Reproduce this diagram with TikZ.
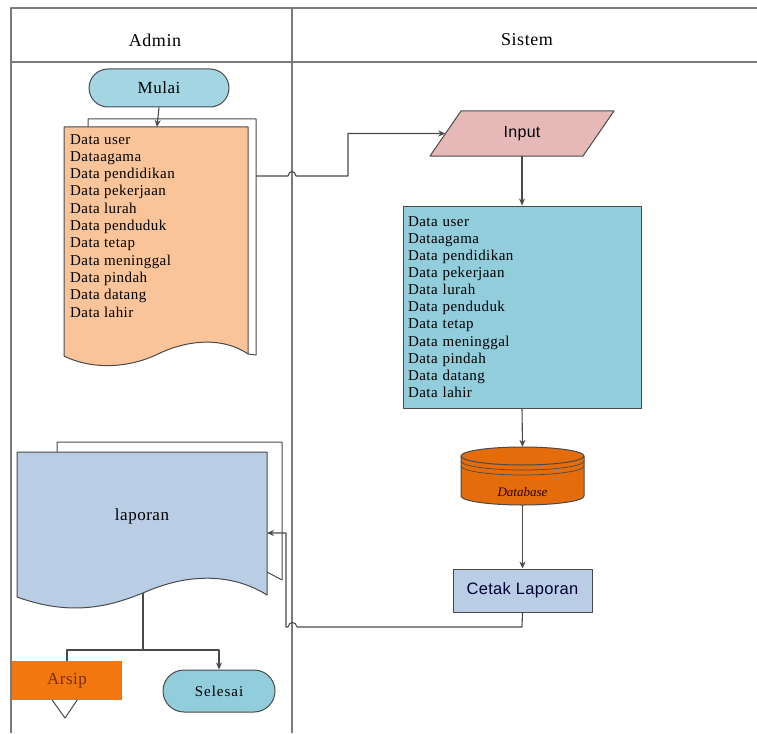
\documentclass[tikz,border=0pt]{standalone}
\usepackage{fontspec}
\setmainfont{Liberation Serif}
\newfontfamily\arialf[LetterSpace=2]{Liberation Sans}
\newfontfamily\datafont[LetterSpace=3]{Liberation Serif}
\usetikzlibrary{arrows, arrows.meta, shapes, positioning}

\definecolor{laneGray}{HTML}{7A7A7A}
\definecolor{lineGray}{HTML}{4A4A4A}
\definecolor{termBlue}{HTML}{A3D5E3}
\definecolor{docPeach}{HTML}{F9C49A}
\definecolor{dataBlue}{HTML}{92CDDC}
\definecolor{inPink}{HTML}{E6B9B8}
\definecolor{dbOrange}{HTML}{E46C0A}
\definecolor{repBlue}{HTML}{B9CDE5}
\definecolor{arsipOrange}{HTML}{F2770F}
\definecolor{arsipText}{HTML}{7A2A08}

\tikzset{
  lane/.style={draw=laneGray, line width=1.4pt},
  flow/.style={draw=lineGray, line width=1.1pt},
  term/.style={rounded rectangle, draw=lineGray, line width=1pt, fill=termBlue, inner sep=0pt},
  shapeline/.style={draw=lineGray, line width=1pt},
  datatext/.style={align=left, inner sep=0pt, font=\datafont\fontsize{15}{17.3}\selectfont}
}

\begin{document}
\begin{tikzpicture}[>={Stealth[length=7pt, width=6pt]}, x=1pt, y=-1pt, line join=round]
\useasboundingbox (0,0) rectangle (757,733);

% swimlanes
\draw[lane] (11,733) -- (11,8) -- (757,8);
\draw[lane] (11,62) -- (757,62);
\draw[lane] (292,8) -- (292,733);
\node[font=\datafont\fontsize{18}{20}\selectfont] (admin) at (155,40) {Admin};
\node[font=\datafont\fontsize{18}{20}\selectfont] (sistem) at (527,40) {Sistem};

% Admin: mulai + data documents
\node[term, minimum width=140pt, minimum height=38pt, font=\datafont\fontsize{17}{19}\selectfont] (mulai) at (159,88) {Mulai};
\draw[shapeline] (88,127) -- (88,119) -- (256,119) -- (256,355) -- (248,354);
\draw[shapeline, fill=docPeach] (64,127) -- (248,127) -- (248,354)
    .. controls (225,338) and (190,338) .. (156,355)
    .. controls (125,369) and (90,369) .. (64,356) -- cycle;
\node[datatext, anchor=north west] (datadoc) at (70,134) {Data user\\Dataagama\\Data pendidikan\\Data pekerjaan\\Data lurah\\Data penduduk\\Data tetap\\Data meninggal\\Data pindah\\Data datang\\Data lahir};
\coordinate (docin) at (157,127);
\coordinate (docout) at (256,176);

% Sistem
\draw[shapeline, fill=inPink] (430,156) -- (461,111) -- (614,111) -- (583,156) -- cycle;
\node[minimum width=153pt, minimum height=45pt, font=\arialf\fontsize{16}{18}\selectfont] (input) at (522,133.5) {Input};
\node[shapeline, fill=dataBlue, minimum width=238pt, minimum height=202pt, text width=228pt,
      align=left, inner sep=5pt, font=\datafont\fontsize{15}{17.1}\selectfont] (datasys) at (522,307)
  {Data user\\Dataagama\\Data pendidikan\\Data pekerjaan\\Data lurah\\Data penduduk\\Data tetap\\Data meninggal\\Data pindah\\Data datang\\Data lahir};

% database cylinder
\draw[shapeline, fill=dbOrange] (461,456) -- (461,496)
    arc[start angle=180, end angle=0, x radius=61.5, y radius=9] -- (584,456)
    arc[start angle=0, end angle=-180, x radius=61.5, y radius=9] -- cycle;
\draw[shapeline] (461,456) arc[start angle=180, end angle=0, x radius=61.5, y radius=9];
\draw[shapeline, line width=0.7pt] (461,461) arc[start angle=180, end angle=0, x radius=61.5, y radius=9];
\draw[shapeline, line width=0.7pt] (461,466) arc[start angle=180, end angle=0, x radius=61.5, y radius=9];
\node[minimum width=123pt, minimum height=58pt] (db) at (522.5,476) {};
\node[font=\itshape\fontsize{13}{15}\selectfont, text=black!85!red, inner sep=0pt] (dbtext) at (522.5,492) {Database};

\node[shapeline, fill=repBlue, minimum width=139pt, minimum height=43pt, inner sep=0pt,
      font=\arialf\fontsize{16.5}{18}\selectfont, text=black!80!blue] (cetak) at (522.5,590.5) {Cetak Laporan};

% Admin: laporan documents
\draw[shapeline] (57,452) -- (57,442) -- (282,442) -- (282,580) -- (267,572);
\draw[shapeline, fill=repBlue] (17,452) -- (267,452) -- (267,595)
    .. controls (240,578) and (200,570) .. (150,590)
    .. controls (115,605) and (75,618) .. (17,597) -- cycle;
\node[font=\datafont\fontsize{17}{19}\selectfont] (laporan) at (142,516) {laporan};
\coordinate (lapin) at (267,533);
\coordinate (lapout) at (143,593);

% arsip + selesai
\draw[shapeline, fill=white] (45,690) -- (84,690) -- (65,718) -- cycle;
\node[fill=arsipOrange, minimum width=110pt, minimum height=39pt, inner sep=0pt,
      font=\datafont\fontsize{17}{19}\selectfont, text=arsipText] (arsip) at (67,680.5) {Arsip};
\node[term, fill=dataBlue, minimum width=112pt, minimum height=42pt,
      font=\fontsize{15}{17}\selectfont] (selesai) at (219,691) {S\kern1pt e\kern1pt l\kern1pt e\kern1pt s\kern1pt a\kern1pt i};

% connectors
\draw[flow, ->] (mulai.south) -- (docin);
\draw[flow, ->] (docout) -- (288,176) .. controls (289,170) and (295,170) .. (296,176)
    -- (348,176) |- (input.west);
\draw[flow, ->] (input.south) -- (datasys.north);
\draw[flow, ->] (datasys.south) -- (db.north);
\draw[flow, ->] (db.south) -- (cetak.north);
\draw[flow, ->] (cetak.south) -- (522,627) -- (297,627)
    .. controls (296,621) and (289,621) .. (288,627) -- (286,627) |- (lapin);
\draw[flow] (lapout) -- (143,650) coordinate (split);
\draw[flow, ->] (split) -| (selesai.north);
\draw[flow] (split) -| (arsip.north);
\end{tikzpicture}
\end{document}
